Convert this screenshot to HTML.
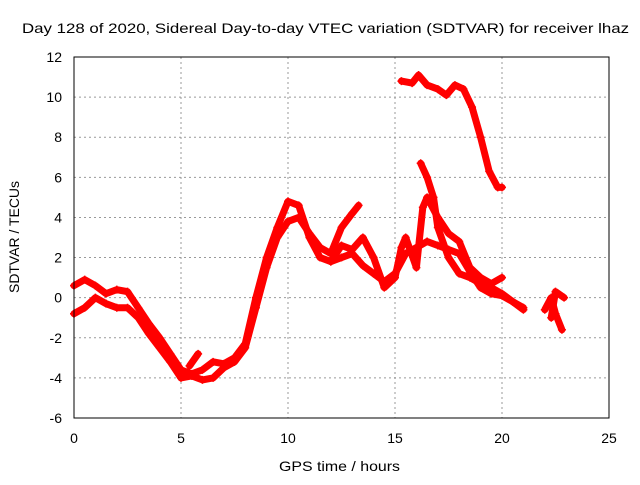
<!DOCTYPE html>
<html><head><meta charset="utf-8"><style>
body{margin:0;background:#fff}
svg text{font-family:"Liberation Sans",sans-serif;font-size:14px;fill:#000}
</style></head><body>
<svg id="chart" width="640" height="480">
<text x="22" y="33" textLength="607" lengthAdjust="spacingAndGlyphs">Day 128 of 2020, Sidereal Day-to-day VTEC variation (SDTVAR) for receiver lhaz</text>
<text x="279" y="471" textLength="121" lengthAdjust="spacingAndGlyphs">GPS time / hours</text>
<text x="19" y="237" text-anchor="middle" textLength="112" lengthAdjust="spacingAndGlyphs" transform="rotate(-90 19 237)">SDTVAR / TECUs</text>
<g id="grid"></g><g id="marks"></g>
<rect x="74" y="57" width="535" height="361" fill="none" stroke="#000"/>
</svg>
<script>
const xTicks=[0,5,10,15,20,25];
const yTicks=[-6,-4,-2,0,2,4,6,8,10,12];
const trackA=[[0,0.6],[0.5,0.9],[1,0.6],[1.5,0.2],[2,0.4],[2.5,0.3],[3,-0.5],[3.5,-1.3],[4,-2],[4.5,-2.8],[5,-3.6],[5.5,-3.8],[6,-3.6],[6.5,-3.2],[7,-3.3],[7.5,-3],[8,-2.3],[8.5,0],[9,2],[9.5,3.5],[10,4.8],[10.5,4.6],[11,3],[11.5,2],[12,1.8],[12.5,2],[13,2.2],[13.5,1.6],[14,1.2],[14.5,0.8],[15,1.2],[15.5,2.2],[16,2.5],[16.5,2.8],[17,2.6],[17.5,2.4],[18,2.2],[18.5,1.3],[19,0.5],[19.5,0.2],[20,0.1],[20.5,-0.2],[21,-0.5]];
const trackB=[[0,-0.8],[0.5,-0.5],[1,0],[1.5,-0.3],[2,-0.5],[2.5,-0.5],[3,-1],[3.5,-1.8],[4,-2.5],[4.5,-3.2],[5,-4],[5.5,-3.9],[6,-4.1],[6.5,-4],[7,-3.5],[7.5,-3.2],[8,-2.5],[8.5,-0.5],[9,1.5],[9.5,3],[10,3.8],[10.5,4],[11,3.2],[11.5,2.5],[12,2.2],[12.5,3.5],[13,4.2],[13.3,4.6]];
const trackC=[[12,1.8],[12.5,2.6],[13,2.4],[13.5,3],[14,2],[14.5,0.5],[15,1],[15.3,2.5],[15.5,3],[16,1.5],[16.3,4.5],[16.5,5],[17,4],[17.5,3.2],[18,2.8],[18.5,1.5],[19,1],[19.5,0.7],[20,1]];
const trackD=[[16.2,6.7],[16.5,6],[16.8,5],[17,3.5],[17.5,2],[18,1.2],[18.5,1],[19,0.7],[19.5,0.5],[20,0.2],[20.5,-0.2],[21,-0.6]];
const trackE=[[15.3,10.8],[15.8,10.7],[16.1,11.1],[16.5,10.6],[17,10.4],[17.4,10.1],[17.8,10.6],[18.2,10.4],[18.6,9.5],[19,8],[19.4,6.3],[19.8,5.5],[20,5.5]];
const trackF=[[5.4,-3.4],[5.8,-2.8]];
const trackG=[[22,-0.6],[22.3,0],[22.5,-0.8],[22.8,-1.6]];
const trackH=[[22.3,-1],[22.5,0.3],[22.9,0]];
const tracks=[trackA,trackB,trackC,trackD,trackE,trackF,trackG,trackH];
const X=v=>74+v*(535/25), Y=v=>418-(v+6)*(361/18);
const NS="http://www.w3.org/2000/svg";
const grid=document.getElementById('grid'), marks=document.getElementById('marks');
function mk(tag,attrs,parent){const e=document.createElementNS(NS,tag);for(const k in attrs)e.setAttribute(k,attrs[k]);parent.appendChild(e);return e;}
xTicks.forEach(t=>{
  if(t>0&&t<25){const l=mk('line',{x1:X(t),x2:X(t),y1:57,y2:418,stroke:'#999','stroke-dasharray':'2,3'},grid);
  
  }
  const tx=mk('text',{x:X(t),y:443,'text-anchor':'middle'},grid);tx.textContent=t;
  
  
});
yTicks.forEach(t=>{
  if(t>-6&&t<12){const l=mk('line',{x1:74,x2:609,y1:Y(t),y2:Y(t),stroke:'#999','stroke-dasharray':'2,3'},grid);
  
  }
  const tx=mk('text',{x:62,y:Y(t)+5,'text-anchor':'end'},grid);tx.textContent=t;
  
  
});
tracks.forEach(tr=>{
  const p=mk('polyline',{points:tr.map(d=>X(d[0])+','+Y(d[1])).join(' '),fill:'none',stroke:'#f00','stroke-width':7,'stroke-linejoin':'round','stroke-linecap':'round'},marks);
  
  
  tr.forEach(d=>{
    const x=X(d[0]),y=Y(d[1]);
    const m=mk('path',{d:`M${x-4} ${y}H${x+4}M${x} ${y-4}V${y+4}`,stroke:'#f00','stroke-width':1.5},marks);
    
    
  });
});
</script>
</body></html>
